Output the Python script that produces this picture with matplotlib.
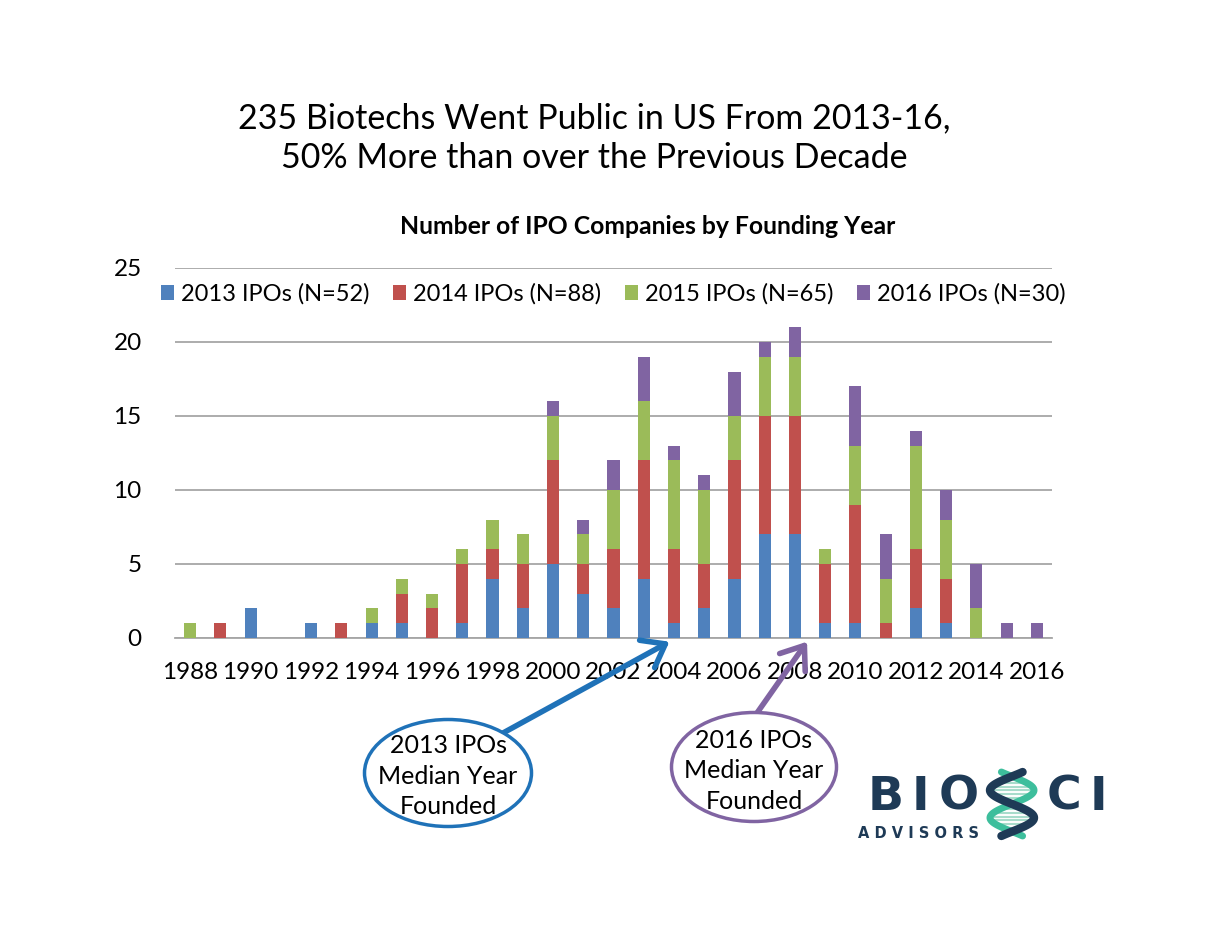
import matplotlib
matplotlib.use("Agg")
import matplotlib.pyplot as plt
from matplotlib.patches import Ellipse
from matplotlib.lines import Line2D
import numpy as np

plt.rcParams['font.family'] = ['Lato', 'DejaVu Sans']

years = list(range(1988, 2017))
ipo2013 = [0,0,2,0,1,0,1,1,0,1,4,2,5,3,2,4,1,2,4,7,7,1,1,0,2,1,0,0,0]
ipo2014 = [0,1,0,0,0,1,0,2,2,4,2,3,7,2,4,8,5,3,8,8,8,4,8,1,4,3,0,0,0]
ipo2015 = [1,0,0,0,0,0,1,1,1,1,2,2,3,2,4,4,6,5,3,4,4,1,4,3,7,4,2,0,0]
ipo2016 = [0,0,0,0,0,0,0,0,0,0,0,0,1,1,2,3,1,1,3,1,2,0,4,3,1,2,3,1,1]
series_labels = ["2013 IPOs (N=52)", "2014 IPOs (N=88)", "2015 IPOs (N=65)", "2016 IPOs (N=30)"]
colors = ["#4F81BD", "#C0504D", "#9BBB59", "#8064A2"]
yticks = [0, 5, 10, 15, 20, 25]
xtick_years = list(range(1988, 2017, 2))

W, H = 1210, 935
fig = plt.figure(figsize=(W/100, H/100), dpi=100)
ax = fig.add_axes([175/W, 1-638/H, (1052-175)/W, (638-268)/H])

x = np.array(years)
bottom = np.zeros(len(years))
for vals, lab, c in zip([ipo2013, ipo2014, ipo2015, ipo2016], series_labels, colors):
    v = np.array(vals, dtype=float)
    ax.bar(x, v, width=0.4, bottom=bottom, color=c, label=lab, zorder=3)
    bottom += v

ax.set_xlim(1987.5, 2016.5)
ax.set_ylim(0, 25)
ax.set_yticks(yticks)
ax.set_xticks(xtick_years)
ax.tick_params(axis='both', length=0, labelsize=17.5, colors='black')
ax.tick_params(axis='x', pad=17)
ax.tick_params(axis='y', pad=24)
ax.grid(axis='y', color='#A6A6A6', linewidth=1.3, zorder=0)
for s in ['left', 'right', 'top']:
    ax.spines[s].set_visible(False)
ax.spines['bottom'].set_color('#A6A6A6')
ax.spines['bottom'].set_linewidth(1.3)

leg = ax.legend(loc='upper center', bbox_to_anchor=(0.5, 1.0), ncol=4, frameon=False,
                fontsize=17, handlelength=0.55, handleheight=0.55, handletextpad=0.3,
                columnspacing=1.0, borderaxespad=0.25)

fig.text(594/W, 1-118/H, "235 Biotechs Went Public in US From 2013-16,", ha='center', va='center', fontsize=24.5)
fig.text(594/W, 1-158/H, "50% More than over the Previous Decade", ha='center', va='center', fontsize=24.5)
fig.text(648/W, 1-227/H, "Number of IPO Companies by Founding Year", ha='center', va='center',
         fontsize=17.8, fontweight='bold')

# Annotations
blue_c = "#1F72B8"
purple_c = "#8064A2"
ax.annotate("", xy=(2003.85, -0.25), xycoords='data',
            xytext=(503/W, 1-733/H), textcoords='figure fraction',
            arrowprops=dict(arrowstyle='->,head_length=0.6,head_width=0.45', color=blue_c, lw=4,
                            mutation_scale=25, shrinkA=0, shrinkB=0),
            annotation_clip=False)
ax.annotate("", xy=(2008.4, -0.25), xycoords='data',
            xytext=(757/W, 1-713/H), textcoords='figure fraction',
            arrowprops=dict(arrowstyle='->,head_length=0.6,head_width=0.45', color=purple_c, lw=4,
                            mutation_scale=25, shrinkA=0, shrinkB=0),
            annotation_clip=False)

e1 = Ellipse((448/W, 1-773/H), 167/W, 107/H, transform=fig.transFigure,
             facecolor='white', edgecolor=blue_c, linewidth=2.5, zorder=5)
e2 = Ellipse((754/W, 1-767/H), 165/W, 109/H, transform=fig.transFigure,
             facecolor='white', edgecolor=purple_c, linewidth=2.5, zorder=5)
fig.patches.extend([e1, e2])
fig.text(448/W, 1-776/H, "2013 IPOs\nMedian Year\nFounded", ha='center', va='center',
         fontsize=18, linespacing=1.38, zorder=6)
fig.text(754/W, 1-771/H, "2016 IPOs\nMedian Year\nFounded", ha='center', va='center',
         fontsize=18, linespacing=1.38, zorder=6)

# Logo
navy = "#1E3A56"
teal = "#3DBE9C"
light_teal = "#A8DCCB"
for ch, cx in [("B", 886), ("I", 920), ("O", 959), ("C", 1064), ("I", 1098)]:
    fig.text(cx/W, 1-797/H, ch, ha='center', va='center', fontsize=34, fontweight='bold',
             color=navy, family=['DejaVu Sans'])
fig.text(918/W, 1-834/H, "A D V I S O R S", ha='center', va='center', fontsize=10.5,
         fontweight='bold', color=navy, family=['DejaVu Sans'])
# DNA helix as the "S"
t = np.linspace(-0.08, 1.08, 120)
cx_s, ytop, ybot, amp = 1012, 772, 836, 22
ys = ytop + (ybot - ytop) * (t + 0.08) / 1.16
x_navy = cx_s - amp * np.sin(2 * np.pi * t)
x_teal = cx_s + amp * np.sin(2 * np.pi * t)
for k in range(6, 114, 7):
    fig.add_artist(Line2D([x_navy[k]/W, x_teal[k]/W], [1-ys[k]/H, 1-ys[k]/H],
                          transform=fig.transFigure, color=light_teal, lw=1.5))
fig.add_artist(Line2D(x_teal/W, 1-ys/H, transform=fig.transFigure, color=teal, lw=5,
                      solid_capstyle='round'))
fig.add_artist(Line2D(x_navy/W, 1-ys/H, transform=fig.transFigure, color=navy, lw=6,
                      solid_capstyle='round'))

fig.savefig("out.png", dpi=100, facecolor='white')
